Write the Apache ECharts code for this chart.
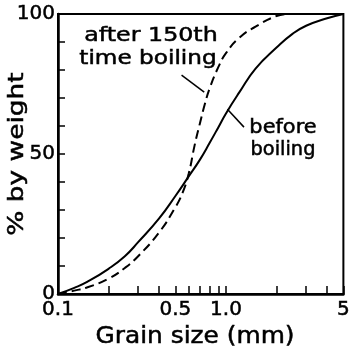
<!DOCTYPE html>
<html>
<head>
<meta charset="utf-8">
<script src="https://cdn.jsdelivr.net/npm/echarts@6/dist/echarts.min.js"></script>
<style>
  html, body { margin: 0; padding: 0; background: #fff; }
  #chart { width: 353px; height: 353px; }
</style>
</head>
<body>
<div id="chart"></div>
<script>
// Cumulative grain-size distribution (% by weight) vs grain size (mm)
const sizesBefore = [0.1, 0.125, 0.15, 0.2, 0.25, 0.3, 0.4, 0.5, 0.6, 0.7, 0.8, 0.9, 1.0, 1.2, 1.5, 2.0, 2.5, 3.0, 4.0, 5.0];
const pctBefore   = [0, 2.2, 4.4, 9, 13.5, 18.5, 27, 35, 42, 48, 54, 59.5, 64.5, 72, 80.5, 88, 93, 95.8, 98.5, 100];

const sizesAfter = [0.1, 0.125, 0.15, 0.2, 0.25, 0.3, 0.4, 0.5, 0.55, 0.6, 0.65, 0.7, 0.75, 0.8, 0.9, 1.0, 1.2, 1.5, 2.0, 2.3];
const pctAfter   = [0, 1.2, 2.4, 5.5, 9.3, 13.5, 22, 31, 36, 43, 53, 61, 68, 73.5, 81, 86, 91.5, 95.5, 99.3, 100];

// Axis ticks and labels
const xTicks = [0.1, 0.2, 0.3, 0.4, 0.5, 0.6, 0.7, 0.8, 0.9, 1, 2, 3, 4, 5];
const xTickLabels = [0.1, 0.5, 1, 5];
const yTickLabels = [0, 50, 100];

// Pointer arrows from label to curve, in data coordinates [size, %]
const arrowBefore = [[1.02, 66], [1.28, 59.6]];
const arrowAfter  = [[0.544, 78.2], [0.742, 72.1]];

const FONT = 'DejaVu Sans';
const INK = '#000';

function zip(xs, ys) { return xs.map((x, i) => [x, ys[i]]); }

function fmtSize(v) {
  if (Math.abs(v - 1) < 1e-9) return '1.0';
  return String(+(+v).toFixed(2));
}

function arrowLine(pair) {
  return [{ coord: pair[0] }, { coord: pair[1] }];
}

function label(text, x, y, size, scaleX, rotation) {
  return {
    type: 'text', x: x, y: y, scaleX: scaleX, rotation: rotation || 0,
    style: {
      text: text, fontFamily: FONT, fontSize: size, fill: INK,
      stroke: INK, lineWidth: 0.5,
      textAlign: 'center', textVerticalAlign: 'middle', align: 'center', verticalAlign: 'middle'
    }
  };
}

const chart = echarts.init(document.getElementById('chart'), null, { renderer: 'canvas' });

chart.setOption({
  animation: false,
  backgroundColor: '#fff',
  grid: {
    left: 58, right: 6, top: 14, bottom: 59,
    show: true, borderColor: INK, borderWidth: 2, backgroundColor: 'transparent'
  },
  xAxis: {
    type: 'log', logBase: 10, min: 0.1, max: 5,
    axisLine: { show: true, lineStyle: { color: INK, width: 2.5 } },
    axisTick: { show: true, inside: true, length: 8, customValues: xTicks, lineStyle: { color: INK, width: 1.5 } },
    minorTick: { show: false },
    splitLine: { show: false },
    axisLabel: {
      show: true, customValues: xTickLabels, margin: 6, color: INK,
      fontFamily: FONT, fontSize: 20, formatter: fmtSize,
      textBorderColor: INK, textBorderWidth: 0.5,
      showMinLabel: true, showMaxLabel: true, hideOverlap: false
    }
  },
  yAxis: {
    type: 'value', min: 0, max: 100, interval: 10,
    axisLine: { show: true, lineStyle: { color: INK, width: 2.5 } },
    axisTick: { show: true, inside: true, length: 7, lineStyle: { color: INK, width: 1.5 } },
    splitLine: { show: false },
    axisLabel: {
      show: true, customValues: yTickLabels, margin: 3, color: INK,
      fontFamily: FONT, fontSize: 20,
      textBorderColor: INK, textBorderWidth: 0.5
    }
  },
  series: [
    {
      name: 'before boiling',
      type: 'line',
      data: zip(sizesBefore, pctBefore),
      showSymbol: false,
      smooth: 0.5,
      lineStyle: { color: INK, width: 2, type: 'solid' },
      markLine: {
        silent: true,
        symbol: ['none', 'arrow'],
        symbolSize: [0, 10],
        label: { show: false },
        lineStyle: { color: INK, width: 1.5, type: 'solid' },
        data: [arrowLine(arrowBefore)]
      }
    },
    {
      name: 'after 150th time boiling',
      type: 'line',
      data: zip(sizesAfter, pctAfter),
      showSymbol: false,
      smooth: 0.5,
      lineStyle: { color: INK, width: 2, type: [9, 5] },
      markLine: {
        silent: true,
        symbol: ['none', 'arrow'],
        symbolSize: [0, 10],
        label: { show: false },
        lineStyle: { color: INK, width: 1.5, type: 'solid' },
        data: [arrowLine(arrowAfter)]
      }
    }
  ],
  graphic: [
    label('after 150th', 151, 36, 19, 1.25),
    label('time boiling', 148, 59.5, 19, 1.22),
    label('before', 283, 128.5, 19, 1.1),
    label('boiling', 283, 150.5, 19, 1.02),
    label('Grain size (mm)', 195, 337, 23, 1.08),
    label('% by weight', 17, 154, 22, 1.2, Math.PI / 2)
  ]
});
</script>
</body>
</html>
